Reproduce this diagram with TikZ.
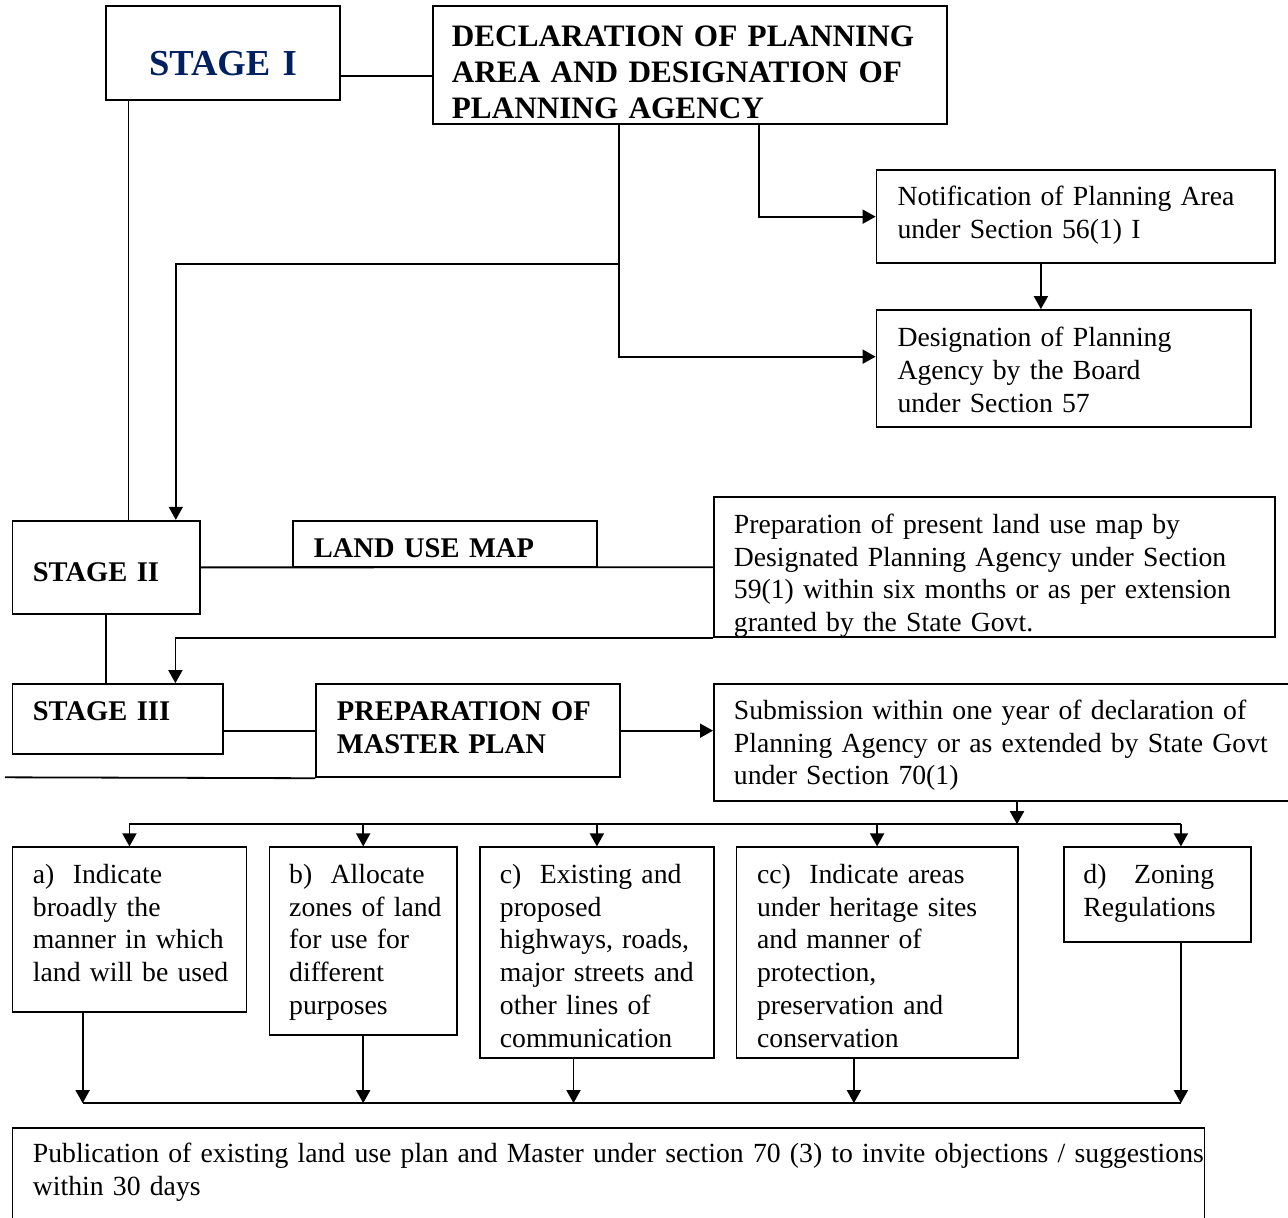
\documentclass[tikz,border=0pt]{standalone}
\usepackage{fontspec}
\setmainfont{Liberation Serif}
\usetikzlibrary{arrows.meta}
\definecolor{stageblue}{RGB}{0,32,96}
% lines of a box, kept as typed
\newcommand{\steplines}[1]{\begin{tabular}[t]{@{}l@{}}#1\end{tabular}}

\begin{document}
\begin{tikzpicture}[
		x=0.5pt, y=-0.5pt,
		line width=0.9pt,
		stepbox/.style={draw, anchor=base west, inner ysep=0pt, inner xsep=10.25pt,
			font=\fontsize{13.85}{16.4}\selectfont},
		headbox/.style={stepbox, font=\fontsize{14.25}{16.4}\selectfont\bfseries},
		link/.style={-{Triangle[length=6.5pt,width=7pt]}}
	]
	\useasboundingbox (0,0) rectangle (1288,1217);

	% stage I
	\node[stepbox, align=center, inner xsep=10pt, text width=97pt, text height=34.5pt, text depth=12.5pt,
		font=\fontsize{18.3}{20}\selectfont\bfseries, text=stageblue] (s1) at (105,75) {STAGE I};
	\node[headbox, inner xsep=9.5pt, text width=238pt, text height=20.35pt, text depth=38.5pt,
		font=\fontsize{15.6}{18}\selectfont\bfseries] (decl) at (432,46.7)
		{\steplines{DECLARATION OF PLANNING\\AREA AND DESIGNATION OF\\PLANNING AGENCY}};
	\node[stepbox, inner xsep=10.5pt, text width=178.4pt, text height=17.8pt, text depth=28.85pt] (notif) at (875.6,205.6)
		{\steplines{Notification of Planning Area\\under Section 56(1) I}};
	\node[stepbox, inner xsep=10.5pt, text width=166.35pt, text height=18.25pt, text depth=40.4pt] (desig) at (875.6,346.5)
		{\steplines{Designation of Planning\\Agency by the Board\\under Section 57}};

	% stage II
	\node[headbox, text width=73.15pt, text height=30.15pt, text depth=16.5pt] (s2) at (11.5,581) {STAGE II};
	\node[headbox, inner xsep=10.5pt, text width=131pt, text height=18.5pt, text depth=4.8pt] (landmap) at (292,557.7) {LAND USE MAP};
	\node[stepbox, inner xsep=10pt, text width=260.5pt, text height=18pt, text depth=52pt] (landprep) at (713,533.3)
		{\steplines{Preparation of present land use map by\\Designated Planning Agency under Section\\59(1) within six months or as per extension\\granted by the State Govt.}};

	% stage III
	\node[headbox, text width=84.85pt, text height=18.35pt, text depth=16.8pt] (s3) at (11.5,720.7) {STAGE III};
	\node[headbox, inner xsep=10.3pt, text width=131.2pt, text height=18.35pt, text depth=28.3pt] (master) at (315.4,720.7)
		{\steplines{PREPARATION OF\\MASTER PLAN}};
	\node[stepbox, inner xsep=10pt, text width=273.5pt, text height=17.65pt, text depth=40.85pt] (sub) at (713,719.3)
		{\steplines{Submission within one year of declaration of\\Planning Agency or as extended by State Govt\\under Section 70(1)}};

	% contents of the master plan
	\node[stepbox, text width=96.55pt, text height=18pt, text depth=64.2pt] (ba) at (11.5,883.3)
		{\steplines{a)\ \ Indicate\\broadly the\\manner in which\\land will be used}};
	\node[stepbox, inner xsep=9.85pt, text width=74pt, text height=18pt, text depth=75.85pt] (bb) at (268.6,883.3)
		{\steplines{b)\ \ Allocate\\zones of land\\for use for\\different\\purposes}};
	\node[stepbox, inner xsep=10.05pt, text width=97pt, text height=18pt, text depth=87.5pt] (bc) at (478.9,883.3)
		{\steplines{c)\ \ Existing and\\proposed\\highways, roads,\\major streets and\\other lines of\\communication}};
	\node[stepbox, inner xsep=10.3pt, text width=120pt, text height=18pt, text depth=87.5pt] (bcc) at (735.6,883.3)
		{\steplines{cc)\ \ Indicate areas\\under heritage sites\\and manner of\\protection,\\preservation and\\conservation}};
	\node[stepbox, inner xsep=9.75pt, text width=74.2pt, text height=18pt, text depth=29.2pt] (bd) at (1063,883.3)
		{\steplines{d)\ \ \ Zoning\\Regulations}};
	\node[stepbox, text width=575.55pt, text height=17.2pt, text depth=36pt] (pub) at (11.5,1162.7)
		{\steplines{Publication of existing land use plan and Master under section 70 (3) to invite objections / suggestions\\within 30 days}};

	% stage I links
	\draw ([yshift=-11.65pt]s1.east) -- ([yshift=-11.65pt]s1.east -| decl.west);
	\draw ([xshift=11.75pt]s1.south west) -- ([xshift=11.75pt]s1.south west |- s2.north);
	\draw[link] ([xshift=163.65pt]decl.south west) |- (notif.west);
	\draw[link] ([xshift=93.5pt]decl.south west) |- ([yshift=6pt]desig.west);
	\coordinate (declfork) at ([xshift=93.5pt,yshift=-69.8pt]decl.south west);
	\draw[link] (declfork) -| ([xshift=82.15pt]s2.north west);
	\draw[link] ([xshift=-17.5pt]notif.south) -- ([xshift=-17.5pt]notif.south |- desig.north);

	% stage II and III links
	\draw (s2.east) -- (landprep.west);
	\draw (s2.south) -- (s2.south |- s3.north);
	\draw[link] (landprep.south west) -| ([xshift=81.95pt]s3.north west);
	\draw (s3.east |- master.west) -- (master.west);
	\coordinate (stub) at (5,777.3);
	\draw (master.south west) -- (stub);
	\draw[link] (master.east) -- (master.east -| sub.west);

	% branch to the contents
	\coordinate (branch) at ([xshift=152pt,yshift=-11.15pt]sub.south west);
	\draw[link] ([xshift=152pt]sub.south west) -- (branch);
	\coordinate (dtop) at ([xshift=11.65pt]bd.north);
	\draw (branch -| ba.north) -- (branch -| dtop);
	\foreach \b in {ba,bb,bc,bcc,dtop}
		\draw[link] (branch -| \b) -- (\b);

	% collect into publication
	\coordinate (collect) at ([yshift=12.15pt]pub.north);
	\foreach \b/\dx in {ba/-23.4pt,bb/0pt,bc/-11.7pt,bcc/-11.6pt,bd/11.65pt}
		\draw[link] ([xshift=\dx]\b.south) -- ([xshift=\dx]\b.south |- collect);
	\draw ([xshift=-23.4pt]ba.south |- collect) -- ([xshift=11.65pt]bd.south |- collect);
\end{tikzpicture}
\end{document}
